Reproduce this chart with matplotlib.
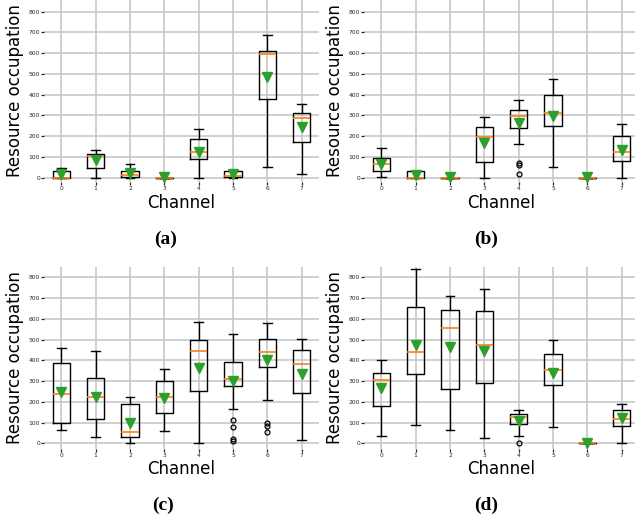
import matplotlib
matplotlib.use("Agg")
import matplotlib.pyplot as plt

channels = ["0", "1", "2", "3", "4", "5", "6", "7"]
yticks = [0, 100, 200, 300, 400, 500, 600, 700, 800]
captions = ["(a)", "(b)", "(c)", "(d)"]

# (a)
q1_a = [0, 47, 3, 0, 89, 3, 378, 172]
med_a = [0, 103, 13, 0, 124, 10, 594, 290]
q3_a = [32, 116, 34, 0, 185, 34, 612, 314]
lo_a = [0, 0, 0, 0, 0, 0, 50, 16]
hi_a = [48, 132, 64, 0, 233, 34, 686, 354]
mean_a = [17, 85, 21, 3, 126, 19, 486, 246]
fl_a = [[], [], [], [], [], [], [], []]

# (b)
q1_b = [31, 0, 0, 74, 238, 251, 0, 82]
med_b = [66, 0, 0, 195, 296, 312, 0, 126]
q3_b = [97, 32, 0, 243, 327, 398, 0, 200]
lo_b = [5, 0, 0, 0, 163, 52, 0, 0]
hi_b = [145, 32, 0, 295, 375, 478, 0, 258]
mean_b = [65, 14, 3, 169, 264, 298, 3, 132]
fl_b = [[], [], [], [], [71, 60, 16], [], [], []]

# (c)
q1_c = [96, 119, 32, 146, 251, 278, 369, 244]
med_c = [238, 225, 55, 222, 447, 308, 442, 382]
q3_c = [389, 316, 190, 299, 500, 394, 504, 451]
lo_c = [64, 32, 0, 59, 0, 165, 207, 16]
hi_c = [459, 447, 223, 358, 583, 525, 578, 503]
mean_c = [246, 222, 98, 219, 361, 300, 403, 333]
fl_c = [[], [], [], [], [], [112, 80, 19, 10], [96, 85, 53], []]

# (d)
q1_d = [180, 336, 260, 292, 92, 281, 0, 82]
med_d = [305, 439, 554, 474, 129, 355, 0, 119]
q3_d = [341, 659, 643, 636, 143, 429, 0, 162]
lo_d = [35, 87, 64, 27, 34, 80, 0, 0]
hi_d = [400, 842, 708, 744, 161, 500, 0, 191]
mean_d = [265, 472, 466, 447, 108, 337, 3, 122]
fl_d = [[], [], [], [], [0], [], [], []]

panels = [
    (q1_a, med_a, q3_a, lo_a, hi_a, mean_a, fl_a),
    (q1_b, med_b, q3_b, lo_b, hi_b, mean_b, fl_b),
    (q1_c, med_c, q3_c, lo_c, hi_c, mean_c, fl_c),
    (q1_d, med_d, q3_d, lo_d, hi_d, mean_d, fl_d),
]

W, H = 635, 519
fig = plt.figure(figsize=(W / 100, H / 100), dpi=100)

# axes rectangles in pixels: left, top, right, bottom
rects = [(44.1, -0.35, 318.9, 182.3), (364.1, -0.35, 638.9, 182.3),
         (44.1, 267.3, 318.9, 448.5), (364.1, 267.3, 638.9, 448.5)]
ylims = [(-22, 858), (-22, 858), (-25, 848), (-25, 848)]
cap_pos = [(166, 239), (486, 239), (163, 505), (486, 505)]

for i, (q1, med, q3, lo, hi, mean, fl) in enumerate(panels):
    l, t, r, b = rects[i]
    ax = fig.add_axes([l / W, 1 - b / H, (r - l) / W, (b - t) / H])
    stats = []
    for k, name in enumerate(channels):
        stats.append(dict(label=name, q1=q1[k], med=med[k], q3=q3[k],
                          whislo=lo[k], whishi=hi[k], mean=mean[k], fliers=fl[k]))
    ax.bxp(stats, showmeans=True,
           boxprops=dict(color="black", linewidth=1.0),
           whiskerprops=dict(color="black", linewidth=1.0),
           capprops=dict(color="black", linewidth=1.0),
           medianprops=dict(color="#ff7f0e", linewidth=1.2),
           meanprops=dict(marker="v", markerfacecolor="#2ca02c",
                          markeredgecolor="#2ca02c", markersize=7),
           flierprops=dict(marker="o", markerfacecolor="none",
                           markeredgecolor="black", markersize=3.5,
                           markeredgewidth=0.9))
    ax.set_ylim(*ylims[i])
    ax.set_xlim(0.5, 8.5)
    ax.set_yticks(yticks)
    ax.grid(True, color="#c4c4c4", linewidth=1.1)
    ax.set_axisbelow(True)
    for s in ax.spines.values():
        s.set_visible(False)
    ax.tick_params(axis="both", labelsize=4.3, length=2, width=0.9,
                   pad=1, colors="#262626")
    ax.set_xlabel("Channel", fontsize=12, labelpad=2)
    ax.set_ylabel("Resource occupation", fontsize=12, labelpad=3)
    fig.text(cap_pos[i][0] / W, 1 - cap_pos[i][1] / H, captions[i],
             family="Liberation Serif", weight="bold", fontsize=14,
             ha="center", va="center")

fig.savefig("out.png", dpi=100)
